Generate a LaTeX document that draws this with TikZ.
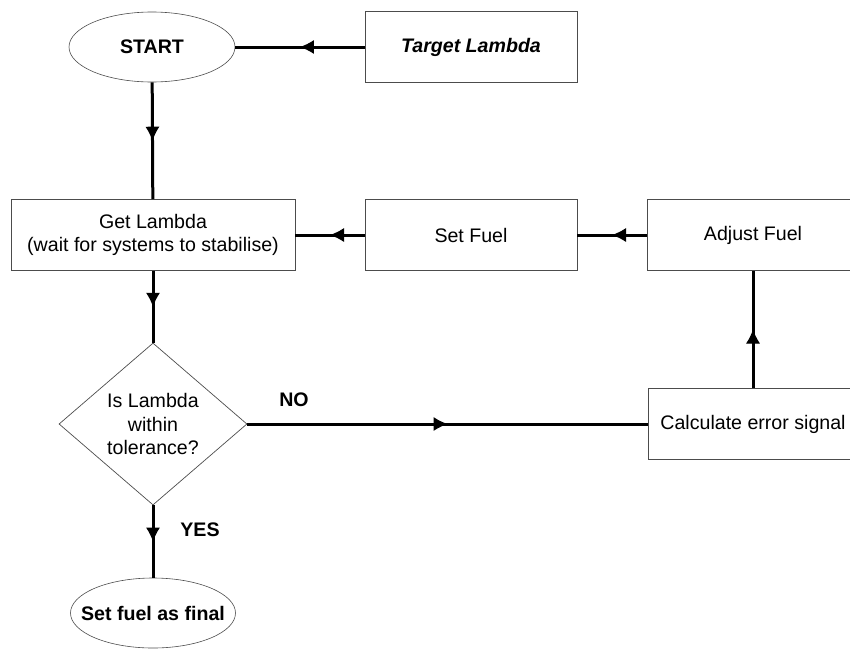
\documentclass[tikz,border=0pt]{standalone}
\usepackage{fontspec}
\setmainfont{Liberation Sans}
\usetikzlibrary{arrows.meta,shapes.geometric,decorations.markings}
\newcommand{\chartfont}{\fontsize{19.6}{23.5}\selectfont}
\tikzset{
  block/.style={draw=black!70, line width=0.7pt, rectangle, minimum width=212, minimum height=71, inner sep=2pt, align=center, font=\chartfont},
  term/.style={draw=black!70, line width=0.6pt, ellipse, minimum width=166, minimum height=70, inner sep=0pt},
  decide/.style={draw=black!70, line width=0.7pt, diamond, aspect=1.16, minimum width=188, minimum height=162, inner sep=0pt, align=center, font=\chartfont},
  lbl/.style={font=\chartfont\bfseries},
  flow/.style={line width=3pt, postaction={decorate},
    decoration={markings, mark=at position 0.5 with {\arrow[line width=1pt]{Latex[length=14pt,width=14pt]}}}},
}
\begin{document}
\begin{tikzpicture}[x=1pt,y=-1pt]
  \useasboundingbox (0,0) rectangle (850,648);

  % top row
  \node[term, label={[lbl]center:START}] (start) at (152,47) {};
  \node[block, font=\chartfont\bfseries\itshape] (target) at (471,47) {Target Lambda};

  % middle row
  \node[block, minimum width=284] (getl) at (153,235) {Get Lambda\\(wait for systems to stabilise)};
  \node[block] (setfuel) at (471,235) {Set Fuel};
  \node[block] (adjust) at (753,235) {Adjust Fuel};

  % decision
  \node[decide] (check) at (153,424) {Is Lambda\\within\\tolerance?};
  \node[block, minimum width=210] (calc) at (753,424) {Calculate error signal};
  \node[term, minimum width=165, label={[lbl]center:Set fuel as final}] (final) at (153,613) {};

  % branch labels
  \node[lbl] (no) at (294,400) {NO};
  \node[lbl] (yes) at (200,530) {YES};

  % connectors
  \draw[flow] (target) -- (start);
  \draw[flow] (start) -- (getl);
  \draw[flow] (adjust) -- (setfuel);
  \draw[flow] (setfuel) -- (getl);
  \draw[flow] (getl) -- (check);
  \draw[flow] (check) -- (calc);
  \draw[flow] (calc) -- (adjust);
  \draw[flow] (check) -- (final);
\end{tikzpicture}
\end{document}
